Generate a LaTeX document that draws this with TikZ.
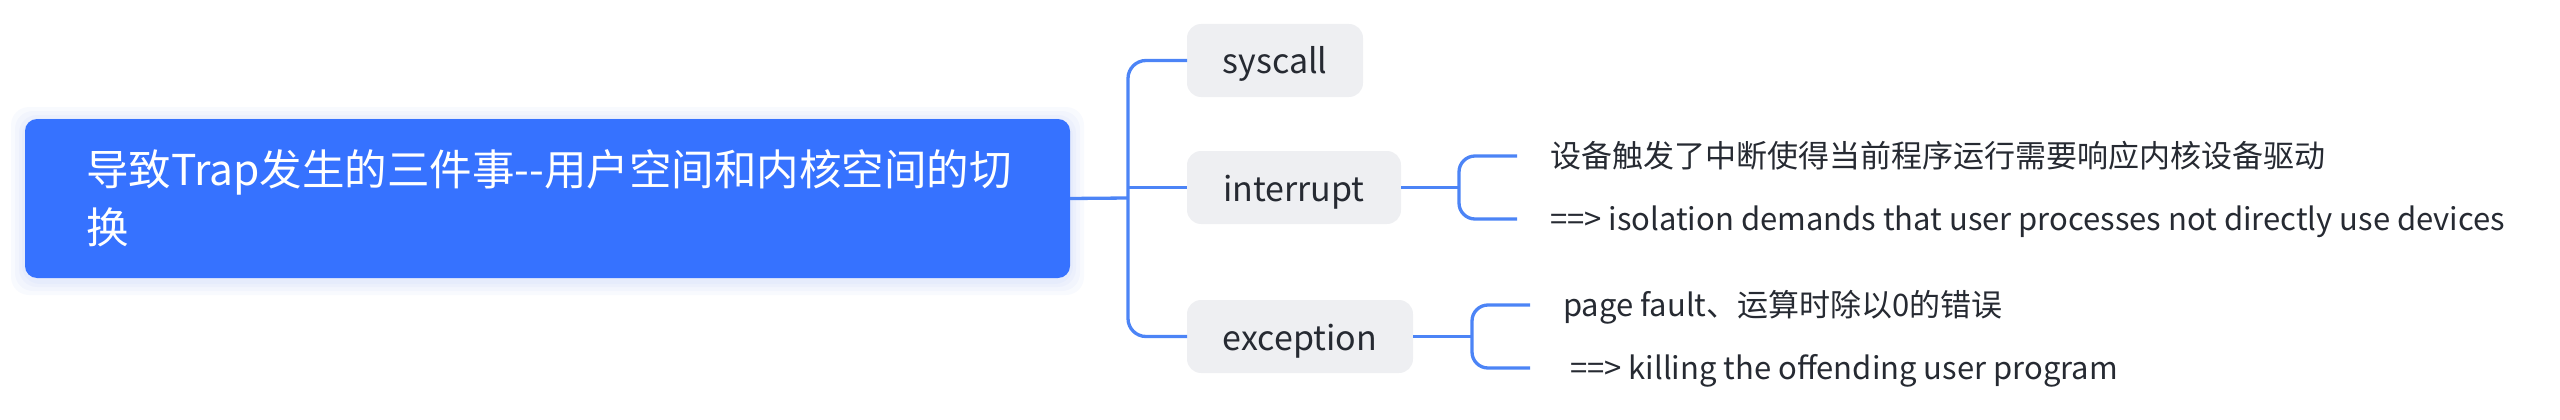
\documentclass[tikz,border=0pt]{standalone}
\usepackage{fontspec}
\setmainfont{Noto Sans CJK SC}
\definecolor{rootblue}{RGB}{54,114,255}
\definecolor{linkblue}{RGB}{76,132,246}
\definecolor{childgray}{RGB}{238,239,242}
\definecolor{txtdark}{RGB}{38,42,50}
\definecolor{glow}{RGB}{70,110,230}
\tikzset{
  rootbox/.style={fill=rootblue, rounded corners=12pt, text=white, align=left,
    text width=923pt, inner xsep=61pt, inner ysep=0pt, minimum width=1045pt,
    minimum height=159pt, outer sep=0pt, font=\fontsize{42.5}{58}\selectfont},
  childbox/.style={fill=childgray, rounded corners=14pt, text=txtdark, anchor=west,
    minimum height=73pt, outer sep=0pt, inner sep=0pt, text height=30pt, text depth=3pt,
    font=\fontsize{34}{40}\selectfont},
  leaf/.style={anchor=west, inner sep=0pt, outer sep=0pt, text=txtdark,
    text height=25pt, text depth=3pt, font=\fontsize{31}{36}\selectfont},
  conn/.style={draw=linkblue, line width=3.3pt}
}
\begin{document}
\begin{tikzpicture}[x=1pt,y=-1pt]
\useasboundingbox (0,0) rectangle (2560,420);
% glow behind root
\foreach \g in {14,10,6,3}{
  \fill[glow, opacity=0.035, rounded corners=18pt] (25-\g,121-\g) rectangle (1070+\g,281+\g);
}
\node[rootbox] (root) at (547.5,198.5) {\mbox{导致Trap发生的三件事-{}-用户空间和内核空间的切}\\换};

\node[childbox, minimum width=176pt] (syscall) at (1187,60.5) {syscall};
\node[childbox, minimum width=214pt] (interrupt) at (1187,187.5) {interrupt};
\node[childbox, minimum width=226pt] (exception) at (1187,336.5) {exception};

\node[leaf] (i1) at (1550,156) {设备触发了中断使得当前程序运行需要响应内核设备驱动};
\node[leaf] (i2) at (1550,219) {==> isolation demands that user processes not directly use devices};
\node[leaf] (e1) at (1563,305) {page fault、运算时除以0的错误};
\node[leaf] (e2) at (1570,368) {==> killing the offending user program};

\coordinate (tr) at (1128,198);
\coordinate (ib) at (1459,187.5);
\coordinate (eb) at (1472,336.5);

\draw[conn] (root.east) -- (tr);
\draw[conn, rounded corners=18pt] (syscall.west) -| (tr) |- (exception.west);
\draw[conn] (tr |- interrupt.west) -- (interrupt.west);

\draw[conn] (interrupt.east) -- (ib);
\draw[conn, rounded corners=16pt] ([xshift=-33pt]i1.west) -| (ib) |- ([xshift=-33pt]i2.west);

\draw[conn] (exception.east) -- (eb);
\draw[conn, rounded corners=16pt] ([xshift=-33pt]e1.west) -| (eb) |- ([xshift=-40pt]e2.west);
\end{tikzpicture}
\end{document}
